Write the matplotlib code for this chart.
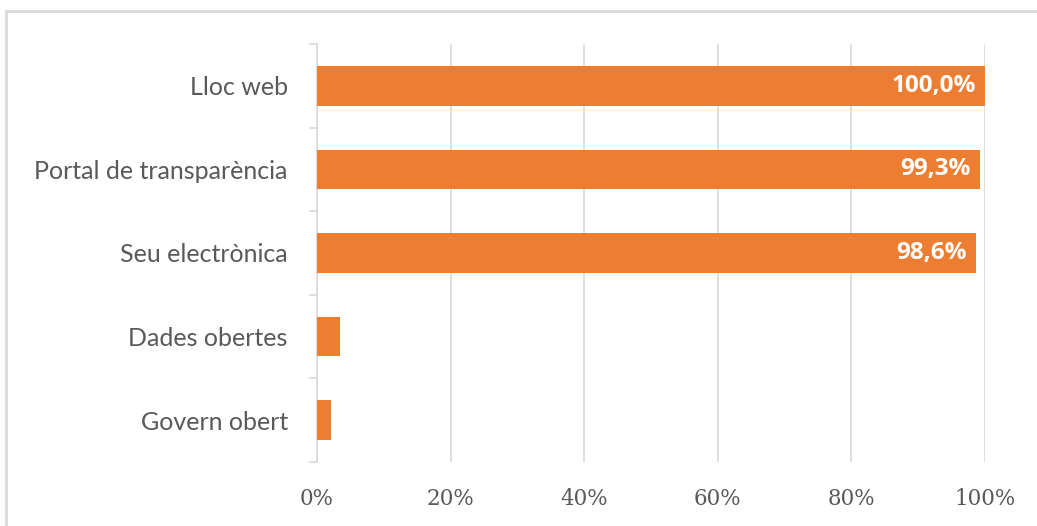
import matplotlib
matplotlib.use("Agg")
import matplotlib.pyplot as plt
from matplotlib.patches import Rectangle

# Canal usage by entities (% of 145)
categories = ["Lloc web", "Portal de transparència", "Seu electrònica",
              "Dades obertes", "Govern obert"]
values = [100.0, 99.3, 98.6, 3.4, 2.1]
shown_labels = [True, True, True, False, False]
xticks = [0, 20, 40, 60, 80, 100]

ORANGE = "#ED7D31"
GRID = "#D9D9D9"
TEXT = "#595959"

fig = plt.figure(figsize=(10.37, 5.26), dpi=100)
W, H = 1037, 526
ax = fig.add_axes([317 / W, 1 - 462 / H, (985 - 317) / W, (462 - 44) / H])

y = list(range(len(categories)))
bars = ax.barh(y, values, height=0.476, color=ORANGE, zorder=3)
ax.set_ylim(len(categories) - 0.5, -0.5)
ax.set_xlim(0, 100)

for bar, v, show in zip(bars, values, shown_labels):
    if show:
        ax.text(bar.get_width() - 1.4, bar.get_y() + bar.get_height() / 2,
                f"{v:.1f}%".replace(".", ","), ha="right", va="center",
                color="white", fontsize=17.5, fontweight="bold",
                family="Open Sans", zorder=4)

ax.set_xticks(xticks)
ax.set_xticklabels([f"{t}%" for t in xticks], family="DejaVu Serif",
                   fontsize=15.5, color=TEXT)
ax.tick_params(axis="x", length=0, pad=19)
ax.xaxis.grid(True, color=GRID, linewidth=1.2, zorder=0)

ax.set_yticks(y)
ax.set_yticklabels(categories, family="Lato", fontsize=18, color=TEXT)
ax.set_yticks([i - 0.5 for i in range(len(categories) + 1)], minor=True)
ax.tick_params(axis="y", which="major", length=0, pad=21)
ax.tick_params(axis="y", which="minor", length=6, color=GRID, width=1.2)

for s in ["top", "right", "bottom"]:
    ax.spines[s].set_visible(False)
ax.spines["left"].set_color(GRID)
ax.spines["left"].set_linewidth(1.2)

# outer chart frame
fig.patches.append(Rectangle((6 / W, -0.1), 1.2, 1 - 11 / H + 0.1,
                             transform=fig.transFigure, fill=False,
                             edgecolor=GRID, linewidth=2))

fig.savefig("out.png", dpi=100, facecolor="white")
